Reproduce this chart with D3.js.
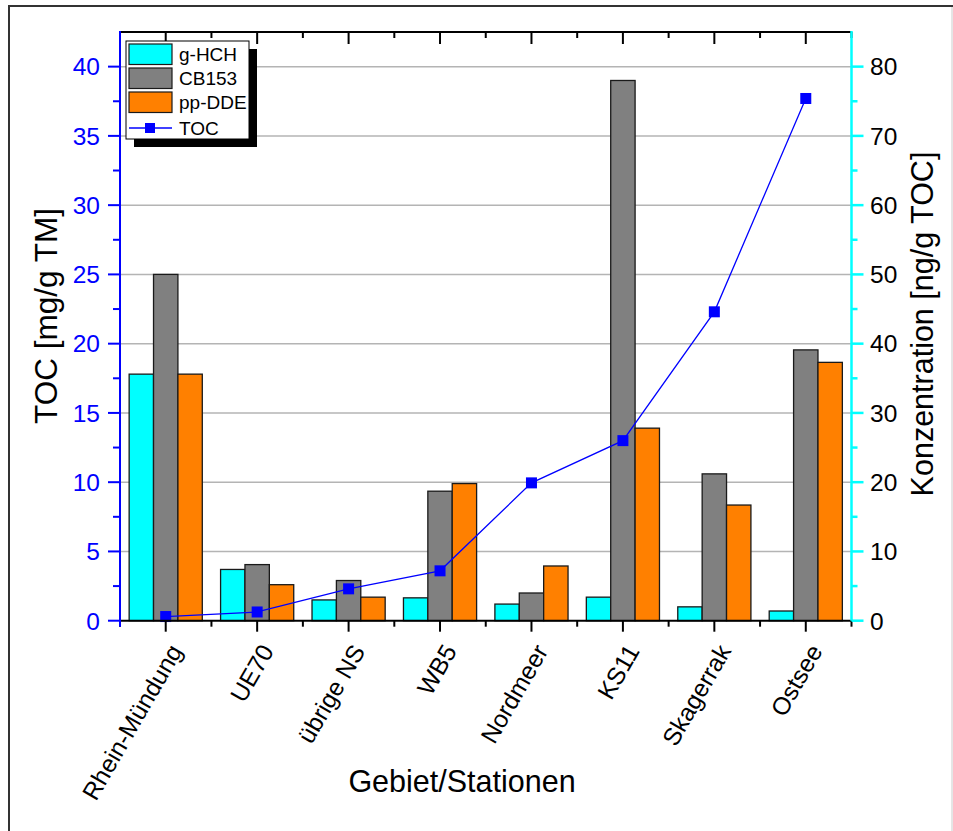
<!DOCTYPE html>
<html>
<head>
<meta charset="utf-8">
<script src="https://cdn.jsdelivr.net/npm/d3@7"></script>
<style>
  html, body { margin: 0; padding: 0; background: #fff; }
  svg { display: block; font-family: "Liberation Sans", Arial, sans-serif; }
</style>
</head>
<body>
<svg id="chart" width="953" height="831"></svg>
<script>
// Stations along the x axis
const categories = ["Rhein-Mündung", "UE70", "übrige NS", "WB5", "Nordmeer", "KS11", "Skagerrak", "Ostsee"];
// Concentrations [ng/g TOC] (right axis)
const gHCH  = [35.6, 7.4, 3.0, 3.3, 2.4, 3.4, 2.0, 1.4];
const CB153 = [50.0, 8.1, 5.8, 18.7, 4.0, 78.0, 21.2, 39.1];
const ppDDE = [35.6, 5.2, 3.4, 19.8, 7.9, 27.8, 16.7, 37.3];
// Organic carbon [mg/g TM] (left axis)
const TOC   = [0.3, 0.63, 2.3, 3.6, 9.95, 13.0, 22.3, 37.7];

const seriesNames = ["g-HCH", "CB153", "pp-DDE"];
const seriesColors = ["#00ffff", "#808080", "#ff8000"];
const barSeries = [gHCH, CB153, ppDDE];

const leftTicks = [0, 5, 10, 15, 20, 25, 30, 35, 40];
const rightTicks = [0, 10, 20, 30, 40, 50, 60, 70, 80];

const svg = d3.select("#chart");
const m = { left: 120, right: 851.5, top: 32, bottom: 620.7 };

// outer frame
svg.append("line").attr("x1", 9).attr("x2", 9).attr("y1", 6).attr("y2", 831)
  .attr("stroke", "#333").attr("stroke-width", 2);
svg.append("line").attr("x1", 8).attr("x2", 953).attr("y1", 6).attr("y2", 6)
  .attr("stroke", "#333").attr("stroke-width", 2);
svg.append("line").attr("x1", 952).attr("x2", 952).attr("y1", 7).attr("y2", 831)
  .attr("stroke", "#ccc").attr("stroke-width", 1);

const x = d3.scaleBand().domain(categories).range([m.left, m.right]).paddingInner(0).paddingOuter(0);
const yL = d3.scaleLinear().domain([0, 42.5]).range([m.bottom, m.top]);
const yR = d3.scaleLinear().domain([0, 85]).range([m.bottom, m.top]);
const sub = d3.scaleBand().domain(seriesNames).range([0, x.bandwidth() * 0.8]).padding(0);

// horizontal grid
svg.append("g").selectAll("line").data(leftTicks.filter(d => d > 0)).join("line")
  .attr("x1", m.left).attr("x2", m.right)
  .attr("y1", d => yL(d)).attr("y2", d => yL(d))
  .attr("stroke", "#b4b4b4").attr("stroke-width", 1.5);

// bars
const groups = svg.append("g").selectAll("g").data(categories).join("g")
  .attr("transform", c => `translate(${x(c) + x.bandwidth() * 0.1},0)`);
groups.selectAll("rect").data((c, i) => seriesNames.map((s, k) => ({ s, k, v: barSeries[k][i] }))).join("rect")
  .attr("x", d => sub(d.s))
  .attr("width", sub.bandwidth())
  .attr("y", d => yR(d.v))
  .attr("height", d => yR(0) - yR(d.v))
  .attr("fill", d => seriesColors[d.k])
  .attr("stroke", "#1a1a1a").attr("stroke-width", 1.3);

// TOC line
const cx = c => x(c) + x.bandwidth() / 2;
svg.append("path").datum(categories)
  .attr("fill", "none").attr("stroke", "#0000ff").attr("stroke-width", 1.3)
  .attr("d", d3.line().x(c => cx(c)).y((c, i) => yL(TOC[i])));
svg.append("g").selectAll("rect").data(categories).join("rect")
  .attr("x", c => cx(c) - 5.5).attr("y", (c, i) => yL(TOC[i]) - 5.5)
  .attr("width", 11).attr("height", 11).attr("fill", "#0000ff");

// bottom axis
const tickPositions = [];
categories.forEach(c => tickPositions.push({ x: x(c), major: false }, { x: cx(c), major: true }));
tickPositions.push({ x: m.right, major: false });
svg.append("line").attr("x1", m.left).attr("x2", m.right + 1).attr("y1", m.bottom).attr("y2", m.bottom)
  .attr("stroke", "#000").attr("stroke-width", 2);
svg.append("g").selectAll("line").data(tickPositions).join("line")
  .attr("x1", d => d.x).attr("x2", d => d.x)
  .attr("y1", m.bottom).attr("y2", d => m.bottom + (d.major ? 11 : 6))
  .attr("stroke", "#000").attr("stroke-width", 2);
// top axis
svg.append("line").attr("x1", m.left).attr("x2", m.right).attr("y1", m.top).attr("y2", m.top)
  .attr("stroke", "#000").attr("stroke-width", 2);
svg.append("g").selectAll("line").data(tickPositions).join("line")
  .attr("x1", d => d.x).attr("x2", d => d.x)
  .attr("y1", m.top).attr("y2", d => m.top + (d.major ? 12 : 6))
  .attr("stroke", "#000").attr("stroke-width", 2);

// category labels
svg.append("g").selectAll("text").data(categories).join("text")
  .attr("transform", c => `translate(${cx(c) + 10},${m.bottom + 26}) rotate(-60)`)
  .attr("text-anchor", "end").attr("dy", "0.35em")
  .attr("font-size", 24.5).attr("fill", "#000")
  .text(c => c);

// left axis (TOC)
svg.append("line").attr("x1", m.left).attr("x2", m.left).attr("y1", m.top - 1).attr("y2", m.bottom + 6)
  .attr("stroke", "#0000ff").attr("stroke-width", 2);
svg.append("g").selectAll("line").data(d3.range(0, 42.5, 2.5)).join("line")
  .attr("x1", m.left).attr("x2", d => m.left - (d % 5 === 0 ? 12 : 7))
  .attr("y1", d => yL(d)).attr("y2", d => yL(d))
  .attr("stroke", "#0000ff").attr("stroke-width", 2);
svg.append("g").selectAll("text").data(leftTicks).join("text")
  .attr("x", 100).attr("y", d => yL(d)).attr("dy", "0.36em")
  .attr("text-anchor", "end").attr("font-size", 24.5).attr("fill", "#0000ff")
  .text(d => d);

// right axis (Konzentration)
svg.append("line").attr("x1", m.right).attr("x2", m.right).attr("y1", m.top - 1).attr("y2", m.bottom)
  .attr("stroke", "#00ffff").attr("stroke-width", 2.5);
svg.append("g").selectAll("line").data(d3.range(0, 85, 5)).join("line")
  .attr("x1", m.right).attr("x2", d => m.right + (d % 10 === 0 ? 12 : 6))
  .attr("y1", d => yR(d)).attr("y2", d => yR(d))
  .attr("stroke", "#00ffff").attr("stroke-width", 2.5);
svg.append("g").selectAll("text").data(rightTicks).join("text")
  .attr("x", 870).attr("y", d => yR(d)).attr("dy", "0.36em")
  .attr("text-anchor", "start").attr("font-size", 24.5).attr("fill", "#000")
  .text(d => d);

// axis titles
svg.append("text").attr("transform", "translate(57,316) rotate(-90)")
  .attr("text-anchor", "middle").attr("font-size", 31.5).text("TOC [mg/g TM]");
svg.append("text").attr("transform", "translate(933,324) rotate(-90)")
  .attr("text-anchor", "middle").attr("font-size", 30.5).text("Konzentration [ng/g TOC]");
svg.append("text").attr("x", 462).attr("y", 792)
  .attr("text-anchor", "middle").attr("font-size", 30.5).text("Gebiet/Stationen");

// legend
const lg = svg.append("g").attr("transform", "translate(126,41)");
lg.append("rect").attr("x", 8).attr("y", 8).attr("width", 123).attr("height", 98).attr("fill", "#000");
lg.append("rect").attr("x", 0).attr("y", 0).attr("width", 123).attr("height", 98)
  .attr("fill", "#fff").attr("stroke", "#000").attr("stroke-width", 1);
seriesNames.forEach((s, k) => {
  lg.append("rect").attr("x", 3).attr("y", 3 + k * 24).attr("width", 43).attr("height", 20.5)
    .attr("fill", seriesColors[k]).attr("stroke", "#1a1a1a").attr("stroke-width", 1.2);
  lg.append("text").attr("x", 53).attr("y", 13.5 + k * 24).attr("dy", "0.36em")
    .attr("font-size", 19).text(s);
});
lg.append("line").attr("x1", 3).attr("x2", 46).attr("y1", 87).attr("y2", 87)
  .attr("stroke", "#0000ff").attr("stroke-width", 1.3);
lg.append("rect").attr("x", 19).attr("y", 82).attr("width", 10).attr("height", 10).attr("fill", "#0000ff");
lg.append("text").attr("x", 53).attr("y", 87).attr("dy", "0.36em").attr("font-size", 19).text("TOC");
</script>
</body>
</html>
